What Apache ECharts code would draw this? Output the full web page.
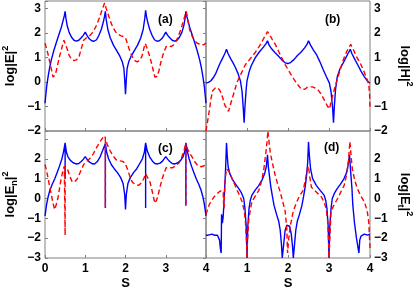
<!DOCTYPE html>
<html><head><meta charset="utf-8">
<script src="https://cdn.jsdelivr.net/npm/echarts@6/dist/echarts.min.js"></script>
<style>html,body{margin:0;padding:0;background:#fff}#c{width:415px;height:291px}</style>
</head><body><div id="c"></div>
<script>
var xTicks = [0, 1, 2, 3, 4];
var aBlue = [[0,-0.87],[0.04,-0.2],[0.08,0.25],[0.12,0.62],[0.16,0.92],[0.22,1.28],[0.28,1.6],[0.34,1.9],[0.4,2.2],[0.45,2.5],[0.48,2.7],[0.5,2.88],[0.52,2.6],[0.55,2.3],[0.6,2.02],[0.66,1.82],[0.72,1.7],[0.78,1.66],[0.84,1.7],[0.9,1.8],[0.95,1.9],[1.0,2.03],[1.05,1.88],[1.1,1.76],[1.16,1.68],[1.22,1.66],[1.28,1.72],[1.34,1.9],[1.4,2.15],[1.45,2.45],[1.48,2.68],[1.5,2.88],[1.52,2.55],[1.56,2.15],[1.62,1.8],[1.7,1.5],[1.78,1.28],[1.86,1.05],[1.92,0.82],[1.96,0.55],[1.98,0.1],[2.0,-0.5],[2.02,0.1],[2.04,0.55],[2.08,0.82],[2.14,1.05],[2.22,1.28],[2.3,1.5],[2.38,1.8],[2.44,2.15],[2.48,2.6],[2.5,2.92],[2.52,2.68],[2.55,2.45],[2.6,2.15],[2.66,1.9],[2.72,1.72],[2.78,1.66],[2.84,1.68],[2.9,1.76],[2.95,1.88],[3.0,2.03],[3.05,1.9],[3.1,1.8],[3.16,1.7],[3.22,1.66],[3.28,1.7],[3.34,1.82],[3.4,2.02],[3.45,2.3],[3.48,2.6],[3.5,2.88],[3.52,2.7],[3.55,2.5],[3.6,2.2],[3.66,1.9],[3.72,1.6],[3.78,1.28],[3.84,0.92],[3.88,0.62],[3.92,0.25],[3.96,-0.2],[4.0,-0.87]];
var aRed = [[0,1.58],[0.04,1.35],[0.08,1.1],[0.12,0.8],[0.16,0.5],[0.2,0.2],[0.23,0.12],[0.26,0.3],[0.3,0.6],[0.36,1.03],[0.42,1.4],[0.47,1.7],[0.5,1.65],[0.55,1.35],[0.6,1.08],[0.66,0.92],[0.72,0.87],[0.78,0.9],[0.84,1.0],[0.9,1.35],[0.96,1.7],[1.04,1.82],[1.12,1.9],[1.2,2.05],[1.28,2.31],[1.36,2.65],[1.42,2.95],[1.48,3.22],[1.52,3.0],[1.57,2.75],[1.63,2.45],[1.69,2.22],[1.75,2.05],[1.81,1.95],[1.89,1.88],[1.97,1.84],[2.01,1.75],[2.05,1.55],[2.11,1.25],[2.17,1.02],[2.23,0.87],[2.29,0.82],[2.35,0.88],[2.41,1.05],[2.46,1.4],[2.49,1.57],[2.53,1.4],[2.57,1.2],[2.61,1.0],[2.67,0.6],[2.73,0.2],[2.78,0.22],[2.83,0.45],[2.89,0.89],[2.95,1.2],[3.01,1.44],[3.07,1.48],[3.13,1.44],[3.19,1.5],[3.25,1.64],[3.31,1.85],[3.37,2.12],[3.44,2.5],[3.51,2.87],[3.55,2.5],[3.6,2.1],[3.66,1.85],[3.72,1.68],[3.78,1.58],[3.86,1.52],[3.94,1.51],[4.0,1.58]];
var bBlue = [[0,-0.05],[0.06,-0.02],[0.12,0.05],[0.18,0.18],[0.24,0.35],[0.3,0.6],[0.36,0.82],[0.42,1.02],[0.47,1.2],[0.5,1.33],[0.54,1.15],[0.6,0.95],[0.66,0.78],[0.72,0.58],[0.78,0.35],[0.84,0.04],[0.88,-0.4],[0.91,-1.1],[0.93,-1.66],[0.95,-1.0],[0.98,-0.3],[1.0,0.04],[1.05,0.4],[1.1,0.65],[1.2,0.98],[1.3,1.22],[1.4,1.42],[1.46,1.55],[1.5,1.68],[1.54,1.5],[1.6,1.35],[1.68,1.2],[1.77,1.05],[1.85,0.9],[1.93,0.78],[2.0,0.75],[2.07,0.8],[2.15,0.92],[2.23,1.08],[2.32,1.22],[2.4,1.38],[2.46,1.52],[2.5,1.68],[2.55,1.5],[2.62,1.3],[2.7,1.1],[2.77,0.85],[2.86,0.5],[2.94,0.2],[3.01,-0.05],[3.05,-0.4],[3.09,-1.1],[3.11,-1.66],[3.13,-1.0],[3.16,-0.3],[3.2,0.2],[3.26,0.5],[3.33,0.72],[3.4,0.95],[3.46,1.15],[3.52,1.33],[3.56,1.15],[3.62,0.95],[3.7,0.7],[3.78,0.44],[3.86,0.22],[3.93,0.05],[4.0,-0.05]];
var bRed = [[0,-2.0],[0.04,-1.6],[0.08,-1.18],[0.12,-0.7],[0.16,-0.37],[0.22,-0.25],[0.28,-0.23],[0.34,-0.35],[0.4,-0.6],[0.46,-0.95],[0.5,-1.05],[0.55,-1.2],[0.6,-0.9],[0.68,-0.45],[0.76,0.0],[0.86,0.35],[0.96,0.7],[1.08,0.95],[1.2,1.2],[1.3,1.45],[1.4,1.75],[1.5,2.05],[1.56,1.9],[1.62,1.72],[1.69,1.53],[1.77,1.25],[1.85,0.98],[1.93,0.71],[2.03,0.42],[2.13,0.15],[2.23,-0.1],[2.33,-0.3],[2.41,-0.3],[2.47,-0.22],[2.53,-0.2],[2.6,-0.2],[2.67,-0.26],[2.73,-0.32],[2.81,-0.5],[2.89,-0.75],[2.95,-0.95],[3.01,-1.1],[3.06,-0.75],[3.13,-0.3],[3.21,0.15],[3.29,0.6],[3.37,1.0],[3.45,1.3],[3.53,1.53],[3.6,1.3],[3.68,1.0],[3.78,0.7],[3.86,0.4],[3.93,0.1],[3.97,-0.1],[3.99,-0.5],[4.0,-1.1]];
var cBlue = [[0,-0.88],[0.04,-0.3],[0.08,0.1],[0.12,0.4],[0.18,0.72],[0.24,0.98],[0.3,1.3],[0.36,1.63],[0.42,2.0],[0.46,2.35],[0.5,2.8],[0.5,1.0],[0.5,2.8],[0.53,2.35],[0.57,2.1],[0.63,1.92],[0.7,1.8],[0.77,1.74],[0.84,1.76],[0.9,1.86],[0.95,1.97],[1.0,2.11],[1.05,1.96],[1.1,1.84],[1.17,1.75],[1.23,1.74],[1.3,1.86],[1.37,2.1],[1.43,2.4],[1.5,2.77],[1.5,-0.48],[1.5,2.77],[1.53,2.35],[1.58,2.0],[1.65,1.7],[1.72,1.5],[1.8,1.3],[1.88,1.05],[1.94,0.75],[1.98,0.2],[2.0,-0.56],[2.02,0.2],[2.06,0.75],[2.12,1.05],[2.2,1.3],[2.28,1.5],[2.35,1.75],[2.42,2.0],[2.47,2.35],[2.5,2.8],[2.5,-0.48],[2.5,2.8],[2.54,2.4],[2.6,2.1],[2.67,1.88],[2.73,1.76],[2.8,1.74],[2.86,1.78],[2.92,1.88],[2.96,1.98],[3.0,2.11],[3.05,1.97],[3.1,1.86],[3.16,1.76],[3.23,1.74],[3.3,1.8],[3.37,1.92],[3.43,2.1],[3.47,2.35],[3.5,2.8],[3.5,-0.37],[3.5,2.8],[3.54,2.35],[3.58,2.0],[3.64,1.63],[3.7,1.3],[3.76,0.98],[3.82,0.72],[3.88,0.4],[3.92,0.1],[3.96,-0.3],[4.0,-0.88]];
var cRed = [[0,1.71],[0.04,1.4],[0.08,0.98],[0.12,0.55],[0.16,0.17],[0.2,-0.25],[0.24,-0.56],[0.28,-0.3],[0.32,0.01],[0.36,0.5],[0.4,0.98],[0.44,1.35],[0.48,1.63],[0.5,1.65],[0.5,-1.85],[0.5,1.6],[0.53,1.55],[0.56,1.47],[0.62,1.1],[0.68,0.82],[0.74,0.85],[0.8,0.98],[0.88,1.35],[0.96,1.71],[1.04,1.88],[1.12,2.03],[1.2,2.25],[1.29,2.6],[1.38,2.9],[1.47,3.16],[1.5,3.05],[1.5,-0.48],[1.5,3.0],[1.55,2.7],[1.61,2.43],[1.69,2.15],[1.77,1.95],[1.85,1.9],[1.93,1.87],[1.99,1.78],[2.05,1.47],[2.11,1.1],[2.17,0.82],[2.25,0.7],[2.33,0.66],[2.4,0.8],[2.45,0.98],[2.5,1.25],[2.55,1.05],[2.61,0.82],[2.67,0.3],[2.73,-0.24],[2.77,-0.1],[2.81,0.17],[2.86,0.6],[2.91,0.98],[2.96,1.3],[3.01,1.55],[3.09,1.55],[3.17,1.55],[3.25,1.65],[3.33,1.79],[3.4,2.1],[3.46,2.45],[3.5,2.8],[3.5,-0.37],[3.5,2.75],[3.55,2.45],[3.6,2.25],[3.65,2.11],[3.72,1.85],[3.8,1.65],[3.88,1.6],[3.95,1.65],[4.0,1.71]];
var dBlue = [[0,-1.85],[0.05,-1.85],[0.1,-1.82],[0.15,-1.8],[0.2,-1.85],[0.24,-1.92],[0.28,-1.85],[0.31,-1.8],[0.33,-2.1],[0.35,-2.5],[0.37,-2.75],[0.38,-0.8],[0.4,-1.25],[0.42,-0.9],[0.44,-0.1],[0.46,0.7],[0.48,1.6],[0.5,2.8],[0.52,2.1],[0.54,1.6],[0.58,1.25],[0.64,0.98],[0.72,0.72],[0.8,0.5],[0.86,0.3],[0.92,0.0],[0.95,-0.5],[0.98,-1.4],[1.0,-3.0],[1.02,-1.4],[1.05,-0.5],[1.08,-0.1],[1.12,0.17],[1.2,0.42],[1.29,0.66],[1.37,0.95],[1.43,1.25],[1.47,1.6],[1.5,2.2],[1.52,1.6],[1.55,1.1],[1.58,0.6],[1.62,0.1],[1.66,-0.35],[1.72,-0.8],[1.77,-1.12],[1.81,-1.6],[1.84,-2.3],[1.86,-3.0],[1.9,-2.2],[1.93,-1.6],[1.97,-1.35],[2.0,-1.3],[2.04,-1.4],[2.08,-1.8],[2.11,-2.4],[2.13,-3.0],[2.16,-2.3],[2.19,-1.6],[2.23,-1.12],[2.28,-0.8],[2.34,-0.35],[2.38,0.1],[2.42,0.6],[2.45,1.1],[2.48,1.8],[2.5,2.85],[2.52,2.2],[2.55,1.5],[2.6,1.0],[2.69,0.66],[2.78,0.42],[2.88,0.17],[2.92,-0.1],[2.95,-0.5],[2.98,-1.4],[3.0,-3.0],[3.02,-1.4],[3.05,-0.5],[3.08,0.0],[3.14,0.3],[3.2,0.5],[3.28,0.72],[3.36,0.98],[3.42,1.25],[3.46,1.6],[3.5,2.2],[3.53,1.3],[3.56,0.5],[3.58,-0.3],[3.62,-1.2],[3.67,-2.0],[3.73,-2.75],[3.75,-2.1],[3.78,-1.9],[3.82,-1.8],[3.86,-1.8],[3.9,-1.9],[3.94,-1.85],[3.97,-1.8],[4.0,-1.8]];
var dRed = [[0,-0.8],[0.04,-0.55],[0.08,-0.31],[0.14,-0.1],[0.2,0.09],[0.26,0.22],[0.32,0.33],[0.38,0.41],[0.42,0.3],[0.43,-0.3],[0.44,-0.5],[0.45,0.2],[0.47,1.0],[0.5,1.5],[0.53,1.6],[0.58,1.3],[0.64,0.98],[0.7,0.7],[0.76,0.41],[0.82,0.15],[0.88,-0.16],[0.93,-0.6],[0.96,-1.12],[0.99,-2.2],[1.0,-3.0],[1.01,-2.2],[1.04,-1.12],[1.08,-0.6],[1.12,-0.16],[1.2,0.12],[1.29,0.41],[1.36,0.9],[1.41,1.47],[1.46,2.3],[1.49,2.9],[1.51,3.4],[1.54,2.8],[1.57,2.27],[1.63,1.7],[1.69,1.15],[1.75,0.72],[1.81,0.33],[1.87,-0.15],[1.93,-0.63],[1.97,-1.5],[1.99,-2.75],[2.02,-2.0],[2.05,-1.45],[2.13,-0.63],[2.19,-0.3],[2.25,0.0],[2.31,0.22],[2.37,0.41],[2.42,0.9],[2.47,1.47],[2.5,1.63],[2.53,1.1],[2.57,0.57],[2.63,0.45],[2.69,0.33],[2.75,0.2],[2.81,0.09],[2.87,-0.15],[2.93,-0.48],[2.97,-1.2],[2.99,-2.2],[3.0,-3.0],[3.02,-2.0],[3.05,-0.63],[3.13,-0.3],[3.21,0.0],[3.29,0.33],[3.37,0.66],[3.43,1.2],[3.47,1.79],[3.51,2.87],[3.54,2.1],[3.57,1.47],[3.63,0.9],[3.69,0.5],[3.77,0.15],[3.86,-0.16],[3.93,-0.6],[3.97,-1.2],[4.0,-2.5]];

var FONT = 'Liberation Sans';
var GRAY = '#808080';
function fmtNum(v){ return String(v).replace('-', '\u2212'); }
function xAxisDef(idx, showLabels, hideZero){
  return {type:'value', gridIndex:idx, min:xTicks[0], max:xTicks[xTicks.length-1], interval:1, position:'bottom',
    name: showLabels ? 'S' : '', nameLocation:'middle', nameGap:19,
    nameTextStyle:{fontFamily:FONT, fontWeight:'bold', fontSize:13, color:'#000'},
    axisLine:{show:false, onZero:false}, splitLine:{show:false},
    axisTick:{show:true, inside:true, length:3, lineStyle:{color:GRAY}},
    axisLabel:{show:showLabels, margin:5, fontFamily:FONT, fontWeight:'bold', fontSize:12, color:'#000',
      formatter:function(v){ if(hideZero && v===0) return ''; return xTicks.indexOf(v)>=0 ? String(v) : ''; }}};
}
var richName = {
  t:{fontFamily:FONT, fontWeight:'bold', fontSize:13, color:'#000', lineHeight:18},
  sub:{fontFamily:FONT, fontWeight:'bold', fontSize:9, color:'#000', lineHeight:9, verticalAlign:'bottom'},
  sup:{fontFamily:FONT, fontWeight:'bold', fontSize:9, color:'#000', lineHeight:9, verticalAlign:'top'}
};
function yAxisDef(idx, min, max, pos, name, maxLbl){
  return {type:'value', gridIndex:idx, min:min, max:max, interval:1, position:pos,
    name:name, nameLocation:'middle', nameGap:26, nameRotate: pos==='left' ? 90 : -90,
    nameTextStyle:{rich:richName},
    axisLine:{show:false}, splitLine:{show:false},
    axisTick:{show:true, inside:true, length:3, lineStyle:{color:GRAY}},
    axisLabel:{margin:4, fontFamily:FONT, fontWeight:'bold', fontSize:12, color:'#000',
      formatter:function(v){ if(v>maxLbl || Math.round(v)!==v) return ''; return fmtNum(v); }}};
}
function lineS(idx, data, red){
  return {type:'line', xAxisIndex:idx, yAxisIndex:idx, data:data, showSymbol:false, symbol:'none',
    clip:true, animation:false, z: red ? 3 : 2,
    lineStyle:{color: red ? '#ff0000' : '#0000ff', width:1.4, type: red ? [5,3] : 'solid'}};
}
var grids = [
  {left:40, top:1, width:166, height:130},
  {left:206, top:1, width:166, height:130},
  {left:40, top:131, width:166, height:132},
  {left:206, top:131, width:166, height:132}
].map(function(g){ g.show=true; g.borderColor=GRAY; g.borderWidth=1; g.backgroundColor='transparent'; g.containLabel=false; return g; });

var option = {
  animation:false,
  backgroundColor:'#fff',
  grid: grids,
  xAxis:[xAxisDef(0,false,false), xAxisDef(1,false,false), xAxisDef(2,true,false), xAxisDef(3,true,true)],
  yAxis:[
    yAxisDef(0,-2,3.3,'left','{t|log|E|}{sup|2}',3),
    yAxisDef(1,-2,3.3,'right','{t|log|H|}{sup|2}',3),
    yAxisDef(2,-3,3.4,'left','{t|log|E}{sub|n}{t||}{sup|2}',2),
    yAxisDef(3,-3,3.4,'right','{t|log|E}{sub|t}{t||}{sup|2}',2)
  ],
  series:[
    lineS(0,aBlue,false), lineS(0,aRed,true),
    lineS(1,bBlue,false), lineS(1,bRed,true),
    lineS(2,cBlue,false), lineS(2,cRed,true),
    lineS(3,dBlue,false), lineS(3,dRed,true)
  ],
  graphic:[
    {type:'text', left:156, top:13, z:10, style:{text:'(a)', font:'bold 12px "Liberation Sans"', fill:'#000', backgroundColor:'#fff', padding:[1,2]}},
    {type:'text', left:323, top:13, z:10, style:{text:'(b)', font:'bold 12px "Liberation Sans"', fill:'#000', backgroundColor:'#fff', padding:[1,2]}},
    {type:'text', left:156, top:142, z:10, style:{text:'(c)', font:'bold 12px "Liberation Sans"', fill:'#000', backgroundColor:'#fff', padding:[1,2]}},
    {type:'text', left:322, top:141, z:10, style:{text:'(d)', font:'bold 12px "Liberation Sans"', fill:'#000', backgroundColor:'#fff', padding:[1,2]}}
  ]
};
var chart = echarts.init(document.getElementById('c'), null, {renderer:'canvas'});
chart.setOption(option);
</script></body></html>
